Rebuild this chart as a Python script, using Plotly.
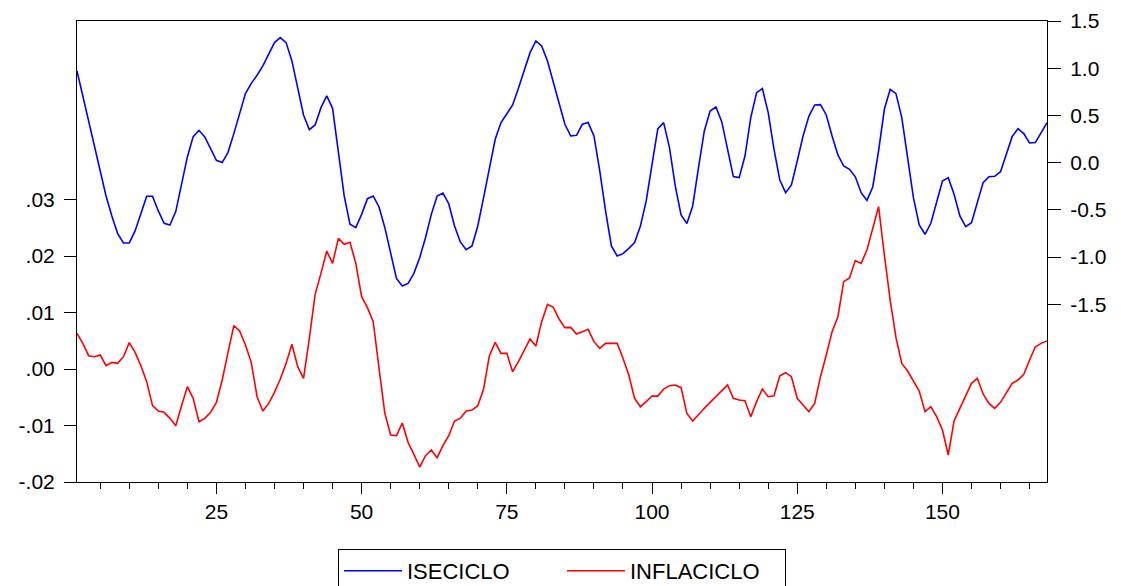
import plotly.graph_objects as go

obs = list(range(1, 169))

iseciclo = [
    0.971, 0.706, 0.434, 0.166, -0.106, -0.353, -0.565, -0.752, -0.851, -0.851,
    -0.724, -0.537, -0.357, -0.357, -0.512, -0.643, -0.661, -0.519, -0.230, 0.060,
    0.275, 0.342, 0.272, 0.141, 0.024, 0.000, 0.109, 0.307, 0.526, 0.731,
    0.840, 0.925, 1.024, 1.154, 1.271, 1.324, 1.271, 1.077, 0.794, 0.505,
    0.349, 0.399, 0.582, 0.706, 0.575, 0.123, -0.353, -0.653, -0.689, -0.548,
    -0.382, -0.353, -0.470, -0.689, -0.954, -1.226, -1.307, -1.279, -1.173, -1.007,
    -0.795, -0.548, -0.353, -0.322, -0.435, -0.671, -0.840, -0.922, -0.883, -0.671,
    -0.371, -0.053, 0.247, 0.424, 0.519, 0.611, 0.787, 0.978, 1.165, 1.289,
    1.236, 1.077, 0.847, 0.618, 0.406, 0.282, 0.289, 0.406, 0.424, 0.282,
    -0.088, -0.512, -0.883, -0.989, -0.964, -0.908, -0.847, -0.671, -0.406, -0.018,
    0.360, 0.424, 0.159, -0.247, -0.554, -0.646, -0.459, -0.053, 0.335, 0.547,
    0.589, 0.434, 0.123, -0.148, -0.159, 0.070, 0.476, 0.741, 0.784, 0.529,
    0.141, -0.184, -0.318, -0.237, 0.017, 0.282, 0.490, 0.611, 0.614, 0.505,
    0.282, 0.081, -0.036, -0.071, -0.150, -0.319, -0.400, -0.258, 0.123, 0.565,
    0.777, 0.731, 0.476, 0.053, -0.371, -0.660, -0.759, -0.643, -0.406, -0.194,
    -0.159, -0.336, -0.565, -0.678, -0.636, -0.424, -0.212, -0.149, -0.145, -0.096,
    0.088, 0.275, 0.360, 0.307, 0.208, 0.212, 0.318, 0.424,
]

# values in percent points (x 0.01)
inflaciclo_pct = [
    0.631, 0.454, 0.236, 0.218, 0.248, 0.059, 0.118, 0.100, 0.218, 0.466,
    0.295, 0.059, -0.224, -0.649, -0.743, -0.767, -0.873, -1.003, -0.649, -0.313,
    -0.519, -0.932, -0.873, -0.767, -0.590, -0.195, 0.295, 0.767, 0.673, 0.425,
    0.118, -0.490, -0.743, -0.608, -0.413, -0.177, 0.100, 0.437, 0.041, -0.165,
    0.543, 1.322, 1.693, 2.088, 1.870, 2.313, 2.206, 2.242, 1.870, 1.280,
    1.086, 0.838, 0.012, -0.785, -1.168, -1.180, -0.956, -1.298, -1.510, -1.735,
    -1.534, -1.434, -1.569, -1.357, -1.180, -0.920, -0.870, -0.743, -0.726, -0.649,
    -0.354, 0.236, 0.472, 0.277, 0.277, -0.047, 0.130, 0.336, 0.531, 0.407,
    0.838, 1.145, 1.091, 0.885, 0.732, 0.737, 0.619, 0.661, 0.702, 0.484,
    0.366, 0.454, 0.454, 0.454, 0.189, -0.106, -0.519, -0.667, -0.578, -0.478,
    -0.480, -0.354, -0.295, -0.283, -0.330, -0.785, -0.920, -0.802, -0.696, -0.590,
    -0.490, -0.383, -0.283, -0.519, -0.549, -0.560, -0.844, -0.578, -0.354, -0.490,
    -0.472, -0.118, -0.065, -0.136, -0.519, -0.637, -0.755, -0.608, -0.136, 0.248,
    0.661, 0.926, 1.546, 1.610, 1.920, 1.870, 2.106, 2.490, 2.873, 2.018,
    1.221, 0.555, 0.100, -0.035, -0.212, -0.389, -0.755, -0.667, -0.844, -1.080,
    -1.522, -0.920, -0.696, -0.460, -0.254, -0.165, -0.442, -0.608, -0.696, -0.590,
    -0.431, -0.254, -0.195, -0.094, 0.159, 0.395, 0.454, 0.496,
]
inflaciclo = [v / 100.0 for v in inflaciclo_pct]

left_tickvals = [-0.02, -0.01, 0.0, 0.01, 0.02, 0.03]
left_ticktext = ["-.02", "-.01", ".00", ".01", ".02", ".03"]
right_tickvals = [-1.5, -1.0, -0.5, 0.0, 0.5, 1.0, 1.5]
right_ticktext = ["-1.5", "-1.0", "-0.5", "0.0", "0.5", "1.0", "1.5"]
x_tickvals = [25, 50, 75, 100, 125, 150]

FONT = "Liberation Sans, Arial, sans-serif"

fig = go.Figure()
fig.add_trace(go.Scatter(x=obs, y=iseciclo, name="ISECICLO", mode="lines",
                         line=dict(color="#0000FF", width=1.6), yaxis="y2"))
fig.add_trace(go.Scatter(x=obs, y=inflaciclo, name="INFLACICLO", mode="lines",
                         line=dict(color="#FF0000", width=1.6), yaxis="y"))

fig.update_layout(
    width=1121, height=586,
    margin=dict(l=77, r=74, t=21, b=104, autoexpand=False),
    paper_bgcolor="white", plot_bgcolor="white",
    font=dict(family=FONT, size=21, color="black"),
    showlegend=True,
    legend=dict(orientation="h", xref="paper", x=0.5, xanchor="center",
                yref="container", y=(586 - 549) / 586, yanchor="top",
                bordercolor="black", borderwidth=1, bgcolor="white",
                font=dict(family=FONT, size=22, color="black"),
                itemwidth=58, entrywidth=150, entrywidthmode="pixels",
                tracegroupgap=0),
    xaxis=dict(range=[1, 168], tickvals=x_tickvals, ticks="outside", ticklen=11,
               tickcolor="black", showgrid=False, zeroline=False,
               showline=True, linecolor="black", linewidth=1, mirror=True,
               minor=dict(dtick=5, tick0=0, ticks="outside", ticklen=6, tickcolor="black",
                          showgrid=False),
               tickfont=dict(family=FONT, size=21)),
    yaxis=dict(range=[-0.02, 0.0616], tickvals=left_tickvals, ticktext=left_ticktext,
               ticks="outside", ticklen=12, tickcolor="black", showgrid=False,
               zeroline=False, showline=True, linecolor="black", linewidth=1,
               ticklabelstandoff=5, tickfont=dict(family=FONT, size=21)),
    yaxis2=dict(range=[-3.383, 1.5], tickvals=right_tickvals, ticktext=right_ticktext,
                overlaying="y", side="right", ticks="outside", ticklen=13,
                tickcolor="black", showgrid=False, zeroline=False, showline=True,
                linecolor="black", linewidth=1, ticklabelstandoff=5,
                tickfont=dict(family=FONT, size=21)),
)

fig.write_html("out.html")
